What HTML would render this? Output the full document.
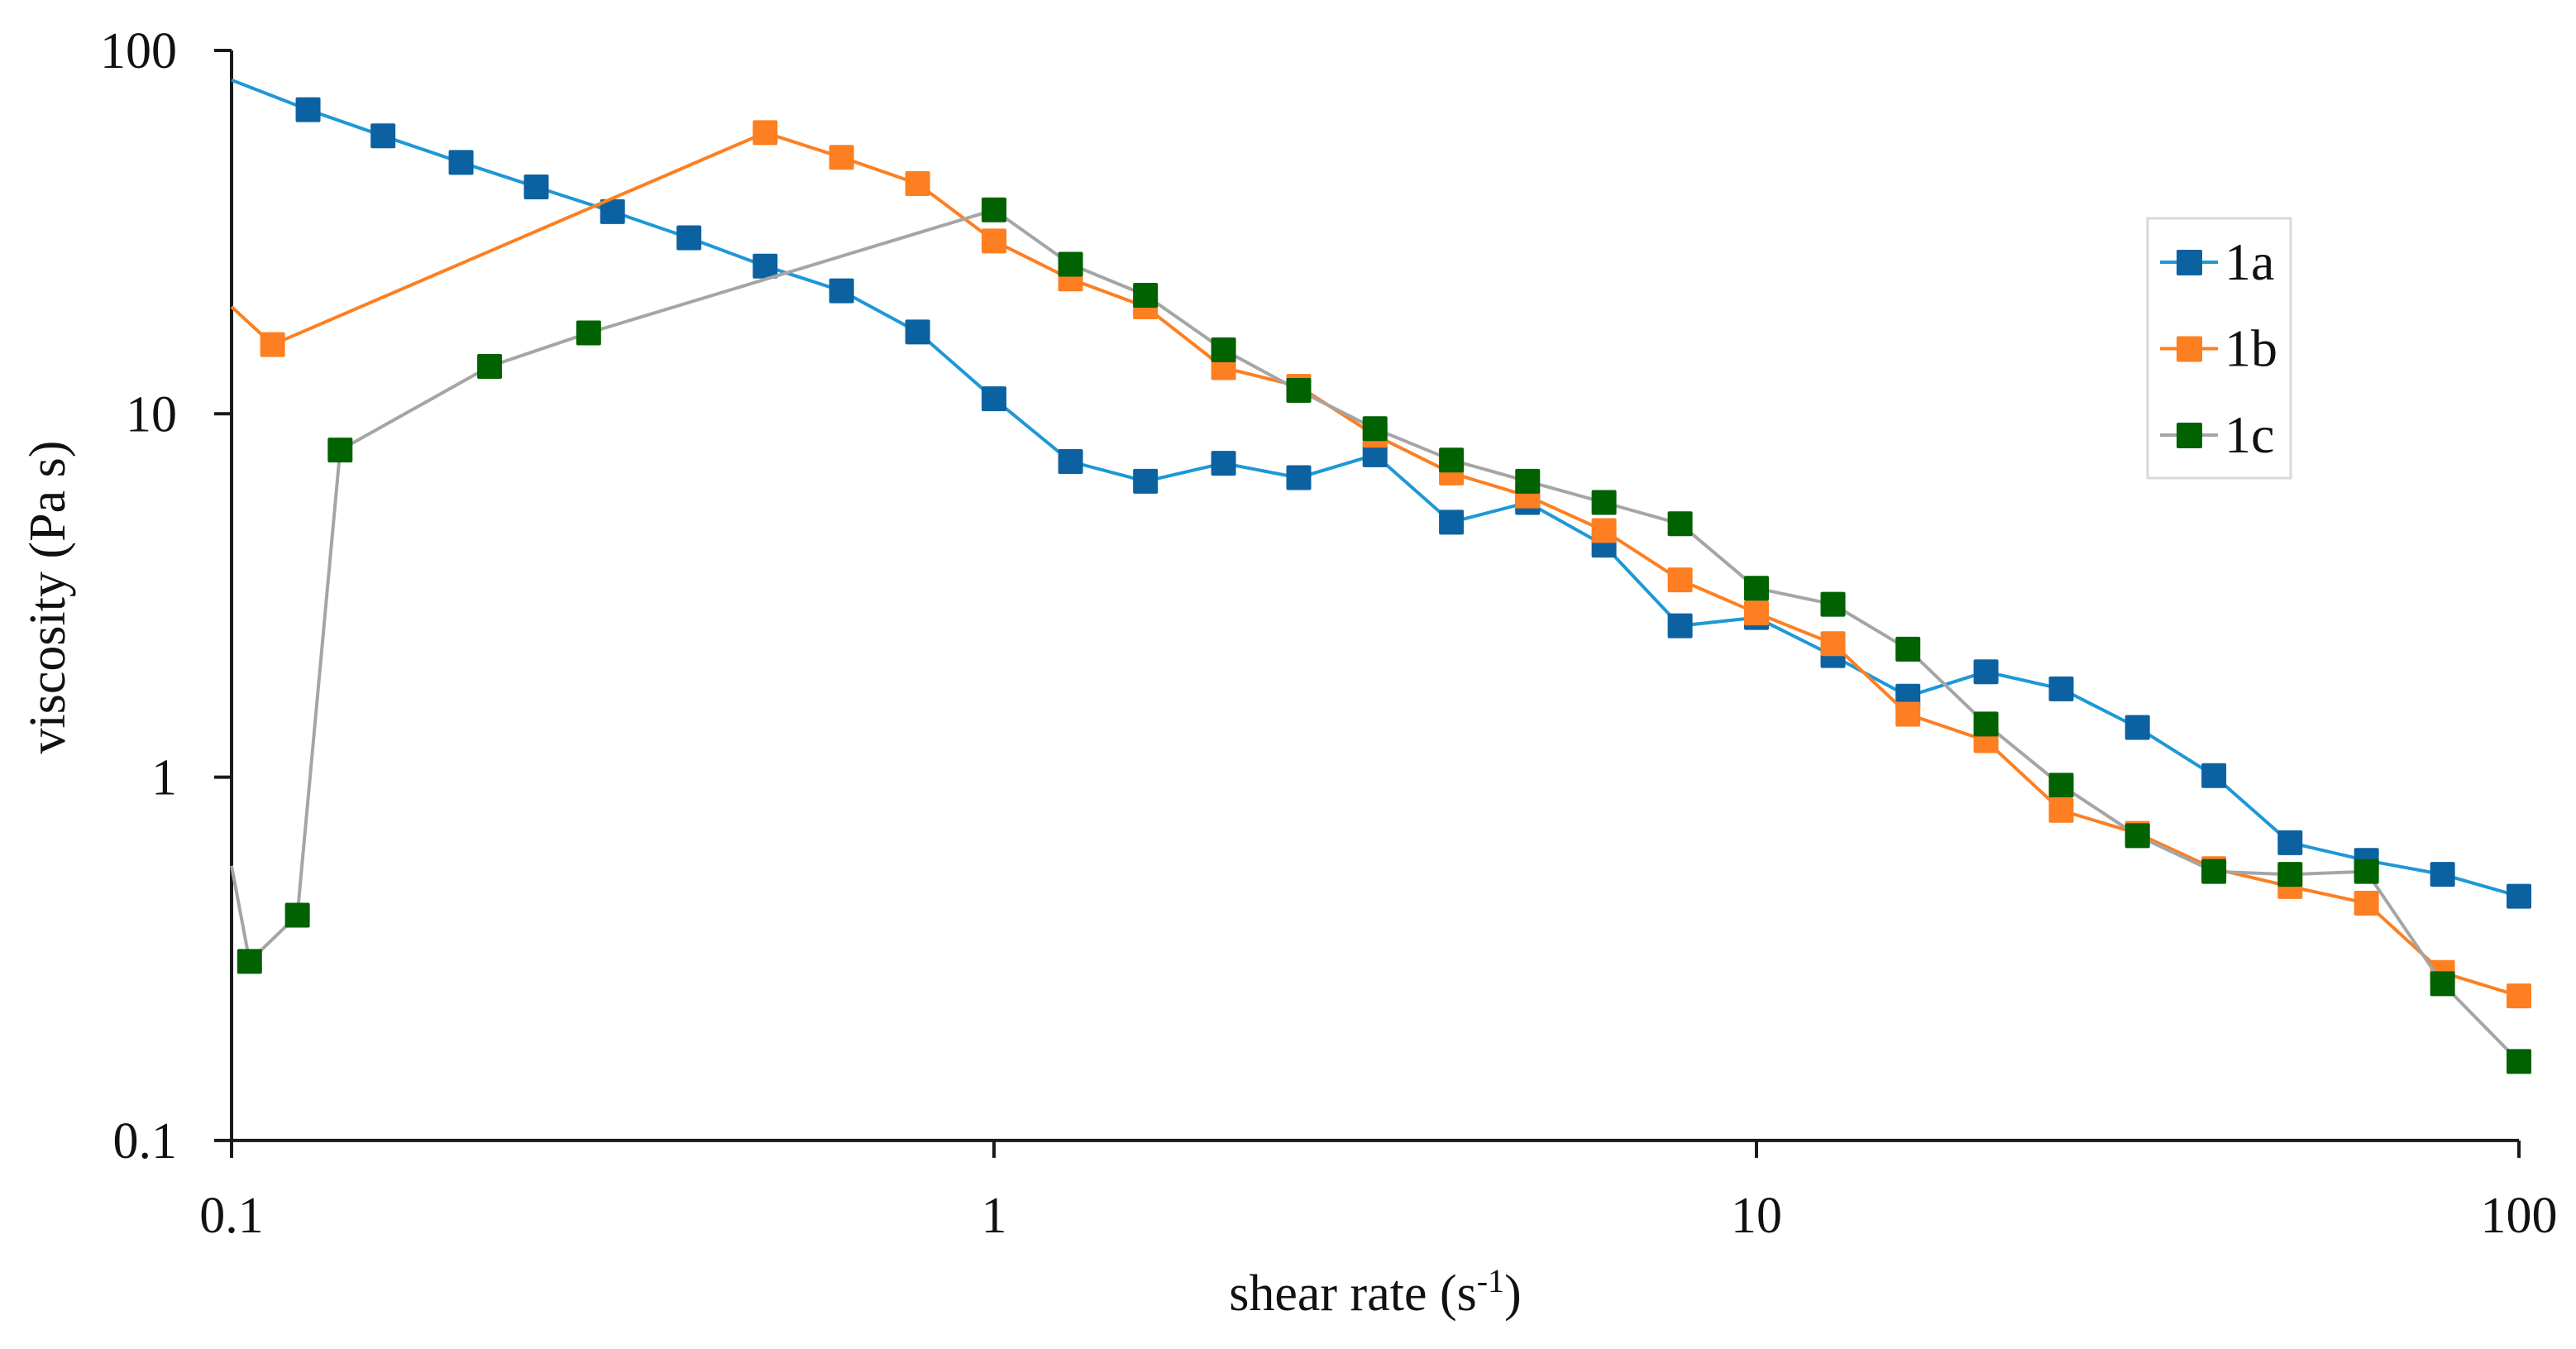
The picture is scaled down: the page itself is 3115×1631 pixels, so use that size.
<!DOCTYPE html>
<html><head><meta charset="utf-8"><style>
html,body{margin:0;padding:0;background:#fff;}
svg text{font-family:"Liberation Serif",serif;fill:#111;}
</style></head><body>
<svg id="chart" width="3115" height="1626" viewBox="0 0 3115 1626" xmlns="http://www.w3.org/2000/svg">
<g id="axes"></g>
<g id="series"></g>
<g id="legend">
  <rect x="2597" y="264" width="173" height="314" fill="#fff" stroke="#d9d9d9" stroke-width="3"/>
</g>
<text x="0" y="0" font-size="62" text-anchor="middle" transform="translate(78,722) rotate(-90)">viscosity (Pa s)</text>
<text x="1663" y="1584" font-size="62" text-anchor="middle">shear rate (s<tspan font-size="40" dy="-22">-1</tspan><tspan dy="22">)</tspan></text>
</svg>
<script>
const xTicks = [0.1, 1, 10, 100];
const xTickLabels = ["0.1", "1", "10", "100"];
const yTicks = [0.1, 1, 10, 100];
const yTickLabels = ["0.1", "1", "10", "100"];
const seriesNames = ["1a", "1b", "1c"];
const x1a = [0.1,0.126,0.158,0.2,0.251,0.316,0.398,0.501,0.631,0.794,1,1.26,1.58,2,2.51,3.16,3.98,5.01,6.31,7.94,10,12.6,15.8,20,25.1,31.6,39.8,50.1,63.1,79.4,100];
const y1a = [82.9,68.7,58.2,49.2,42.1,36.0,30.5,25.5,21.8,16.8,11.0,7.39,6.52,7.31,6.67,7.71,5.03,5.70,4.35,2.61,2.75,2.16,1.67,1.95,1.75,1.37,1.01,0.66,0.59,0.54,0.47];
const x1b = [0.1,0.1132,0.501,0.631,0.794,1,1.26,1.58,2,2.51,3.16,3.98,5.01,6.31,7.94,10,12.6,15.8,20,25.1,31.6,39.8,50.1,63.1,79.4,100];
const y1b = [19.7,15.5,59.4,50.8,43.0,29.9,23.5,19.7,13.4,11.9,8.73,6.87,5.94,4.77,3.49,2.83,2.33,1.49,1.26,0.81,0.70,0.56,0.50,0.45,0.29,0.25];
const x1c = [0.1,0.1056,0.122,0.1388,0.218,0.294,1,1.26,1.58,2,2.51,3.16,3.98,5.01,6.31,7.94,10,12.6,15.8,20,25.1,31.6,39.8,50.1,63.1,79.4,100];
const y1c = [0.57,0.311,0.417,7.95,13.5,16.7,36.4,25.8,21.2,15.0,11.6,9.1,7.46,6.52,5.70,4.98,3.31,2.99,2.25,1.40,0.95,0.69,0.55,0.54,0.55,0.27,0.165];

const NS = "http://www.w3.org/2000/svg";
const X0 = 280, XDEC = 922, Y0 = 61, YDEC = 439.3;
function sx(v){ return X0 + XDEC * (Math.log10(v) + 1); }
function sy(v){ return Y0 + YDEC * (2 - Math.log10(v)); }
function mk(tag, attrs, parent){
  const e = document.createElementNS(NS, tag);
  for (const k in attrs) e.setAttribute(k, attrs[k]);
  parent.appendChild(e); return e;
}
const axes = document.getElementById('axes');
let el = mk('line', {x1:X0, y1:sy(0.1), x2:sx(100), y2:sy(0.1), stroke:'#1a1a1a', 'stroke-width':4}, axes);


el = mk('line', {x1:X0, y1:sy(100), x2:X0, y2:sy(0.1), stroke:'#1a1a1a', 'stroke-width':4}, axes);


xTicks.forEach((t, i) => {
  const x = sx(t);
  let tk = mk('line', {x1:x, y1:sy(0.1), x2:x, y2:sy(0.1)+21, stroke:'#1a1a1a', 'stroke-width':4}, axes);
  
  
  let tx = mk('text', {x:x, y:1490, 'font-size':62, 'text-anchor':'middle'}, axes);
  tx.textContent = xTickLabels[i];
  
  
});
yTicks.forEach((t, i) => {
  const y = sy(t);
  let tk = mk('line', {x1:X0-21, y1:y, x2:X0, y2:y, stroke:'#1a1a1a', 'stroke-width':4}, axes);
  
  
  let tx = mk('text', {x:214, y:y+21, 'font-size':62, 'text-anchor':'end'}, axes);
  tx.textContent = yTickLabels[i];
  
  
});
const ser = document.getElementById('series');
const defs = [
  {name:'1a', xs:x1a, ys:y1a, line:'#1e98d6', fill:'#0c62a0'},
  {name:'1b', xs:x1b, ys:y1b, line:'#fd7f21', fill:'#fd7f21'},
  {name:'1c', xs:x1c, ys:y1c, line:'#a5a5a5', fill:'#006200'}
];
defs.forEach(d => {
  const g = mk('g', {}, ser);
  
  
  const pts = d.xs.map((x, i) => sx(x).toFixed(1) + ',' + sy(d.ys[i]).toFixed(1)).join(' ');
  const pl = mk('polyline', {points:pts, fill:'none', stroke:d.line, 'stroke-width':4, 'stroke-linejoin':'round'}, g);
  
  
  d.xs.forEach((x, i) => {
    if (x <= 0.1001) return;
    const r = mk('rect', {x:sx(x)-15, y:sy(d.ys[i])-15, width:30, height:30, rx:2, fill:d.fill}, g);
    
    
  });
});
const leg = document.getElementById('legend');
defs.forEach((d, i) => {
  const y = 317 + i * 104.5;
  const g = mk('g', {}, leg);
  
  
  mk('line', {x1:2612, y1:y, x2:2682, y2:y, stroke:d.line, 'stroke-width':4}, g);
  mk('rect', {x:2632, y:y-15, width:31, height:31, rx:2, fill:d.fill}, g);
  const t = mk('text', {x:2690, y:y+21, 'font-size':64}, g);
  t.textContent = seriesNames[i];
});
</script>
</body></html>
